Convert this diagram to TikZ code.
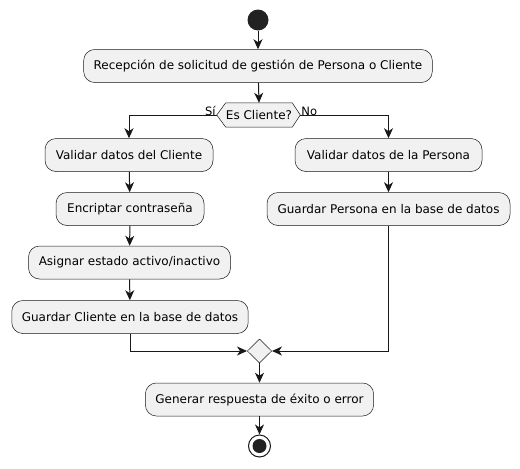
\documentclass[tikz,border=0pt]{standalone}
\usepackage{fontspec}
\setmainfont{DejaVu Sans}
\usetikzlibrary{arrows.meta,shapes.geometric}
\definecolor{boxfill}{HTML}{F1F1F1}
\definecolor{line}{HTML}{181818}
\definecolor{dot}{HTML}{222222}
\begin{document}
\begin{tikzpicture}[x=1pt,y=-1pt,
  act/.style={draw=line, line width=0.5pt, fill=boxfill, rounded corners=11pt,
    minimum height=33pt, inner xsep=10pt, font=\fontsize{12}{14}\selectfont},
  flow/.style={draw=line, line width=1pt, -{Stealth[length=10pt,width=9pt,inset=3pt]}},
  plain/.style={draw=line, line width=1pt},
  lbl/.style={font=\fontsize{11.5}{13}\selectfont, inner sep=0pt}]
\useasboundingbox (0,0) rectangle (520,469);
% start
\node[circle, fill=dot, minimum size=21pt, inner sep=0pt] (start) at (258,20) {};
\node[act, minimum width=348pt] (rec) at (258,66) {Recepción de solicitud de gestión de Persona o Cliente};
% decision
\node[minimum width=62pt, minimum height=24pt, inner sep=0pt, font=\fontsize{12}{14}\selectfont] (dec) at (259,115) {Es Cliente?};
\draw[draw=line, line width=0.5pt, fill=boxfill] (dec.north west) -- (dec.north east) -- ([xshift=8pt]dec.east) -- (dec.south east) -- (dec.south west) -- ([xshift=-9pt]dec.west) -- cycle;
\node at (dec) {\fontsize{12}{14}\selectfont Es Cliente?};
\coordinate (decL) at ([xshift=-9pt]dec.west);
\coordinate (decR) at ([xshift=8pt]dec.east);
% left branch
\node[act, minimum width=168pt] (vc) at (129,155) {Validar datos del Cliente};
\node[act, minimum width=148pt] (enc) at (130,209) {Encriptar contraseña};
\node[act, minimum width=202pt] (asg) at (129.5,262.5) {Asignar estado activo/inactivo};
\node[act, minimum width=236pt] (gc) at (130,317) {Guardar Cliente en la base de datos};
% right branch
\node[act, minimum width=187pt] (vp) at (388.5,155) {Validar datos de la Persona};
\node[act, minimum width=243pt] (gp) at (388.5,209) {Guardar Persona en la base de datos};
% merge
\node[diamond, draw=line, line width=0.5pt, fill=boxfill, minimum width=24.5pt, minimum height=24pt, inner sep=0pt] (mrg) at (259.5,351) {};
\node[act, minimum width=227pt] (gen) at (259.5,399.5) {Generar respuesta de éxito o error};
% end
\node[circle, draw=line, line width=1pt, fill=white, minimum size=22pt, inner sep=0pt] (stop) at (259.5,446) {};
\node[circle, fill=dot, minimum size=14pt, inner sep=0pt] (stopin) at (259.5,446) {};
% connectors
\draw[flow] (start) -- (rec);
\draw[flow] (rec) -- (dec.north);
\draw[flow] (decL) -| (vc.north);
\draw[flow] (decR) -| (vp.north);
\node[lbl, anchor=south east] (si) at ([xshift=-1pt,yshift=-0.5pt]decL) {Sí};
\node[lbl, anchor=south west] (no) at ([xshift=1pt,yshift=-0.5pt]decR) {No};
\draw[flow] (vc) -- (enc);
\draw[flow] (enc) -- (asg);
\draw[flow] (asg) -- (gc);
\draw[flow] (vp) -- (gp);
\draw[flow] (gc.south) |- (mrg.west);
\draw[flow] (gp.south) |- (mrg.east);
\draw[flow] (mrg) -- (gen);
\draw[flow] (gen) -- (stop);
\end{tikzpicture}
\end{document}
